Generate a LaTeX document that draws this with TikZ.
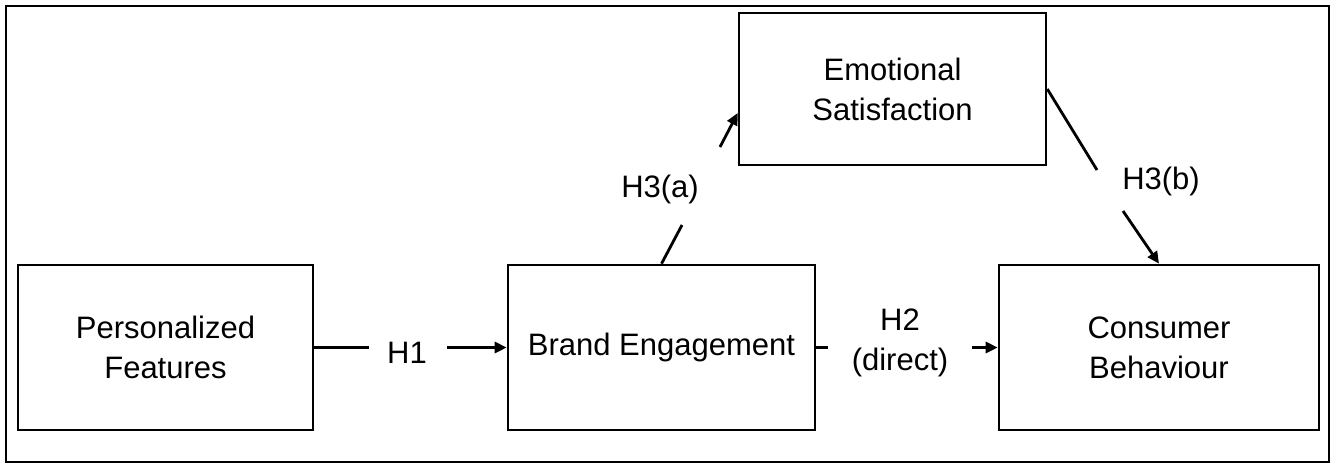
\documentclass[tikz,border=0pt]{standalone}
\usepackage{fontspec}
\setmainfont{Liberation Sans}
\usetikzlibrary{arrows.meta}
\begin{document}
\begin{tikzpicture}[x=1pt,y=-1pt,
  every node/.style={font=\fontsize{31}{40}\selectfont},
  box/.style={draw,line width=2.6pt,align=center,inner sep=0pt},
  conn/.style={line width=2.8pt},
  arr/.style={line width=2.8pt,-{Triangle[length=12pt,width=11pt]}},
  lbl/.style={align=center,inner sep=0pt}]
\useasboundingbox (0,0) rectangle (1332,464);
\draw[line width=1.8pt] (6,6) rectangle (1329,462);
\node[box,minimum width=295pt,minimum height=165pt] (pf) at (165.5,347.5) {Personalized\\Features};
\node[box,minimum width=307pt,minimum height=165pt] (be) at (661.5,347.5) {Brand Engagement};
\node[box,minimum width=320pt,minimum height=165pt] (cb) at (1159,347.5) {Consumer\\Behaviour};
\node[box,minimum width=307pt,minimum height=152pt] (es) at (892.5,89) {Emotional\\Satisfaction};
% labels
\node[lbl] (h1) at (407,353) {H1};
\node[lbl] (h2) at (900,343) {H2\\(direct)};
\node[lbl] (h3a) at (660,189) {H3(a)};
\node[lbl] (h3b) at (1161,181) {H3(b)};
% connector break points
\coordinate (h1s) at (369,347.5);
\coordinate (h1e) at (447,347.5);
\coordinate (h2s) at (828,347.5);
\coordinate (h2e) at (972,347.5);
\coordinate (h3as) at (682,225);
\coordinate (h3ae) at (720,147);
\coordinate (h3bs) at (1097,170);
\coordinate (h3be) at (1123,211);
% connectors
\draw[conn] (pf.east) -- (h1s);
\draw[arr] (h1e) -- (be.west);
\draw[conn] (be.east) -- (h2s);
\draw[arr] (h2e) -- (cb.west);
\draw[conn] (be.north) -- (h3as);
\draw[arr] (h3ae) -- ([yshift=-24pt]es.west);
\draw[conn] (es.east) -- (h3bs);
\draw[arr] (h3be) -- (cb.north);
\end{tikzpicture}
\end{document}
